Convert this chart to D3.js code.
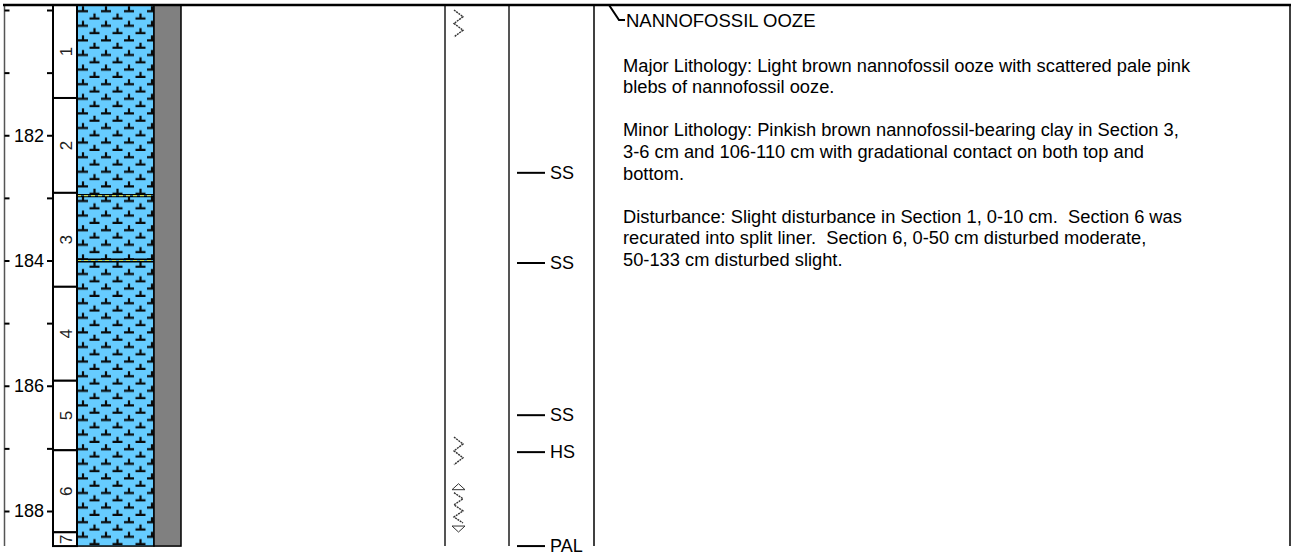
<!DOCTYPE html>
<html><head><meta charset="utf-8">
<script src="https://cdn.jsdelivr.net/npm/d3@7"></script>
<style>body{margin:0;background:#fff}svg{display:block}text{font-family:"Liberation Sans",Arial,Helvetica,sans-serif}</style>
</head><body><svg id="chart" width="1298" height="555"></svg>
<script>
// ---- data ----
const depthTicks = [180, 181, 182, 183, 184, 185, 186, 187, 188];
const depthLabels = [182, 184, 186, 188];
const sectionNames = ["1", "2", "3", "4", "5", "6", "7"];
const sectionTops = [179.92, 181.405, 182.92, 184.42, 185.92, 187.03, 188.34];
const coreBottom = 188.56;
const clayBands = [[182.95, 182.98], [183.98, 184.02]];
const disturbSlight = [[180.0, 180.43], [186.82, 187.26]];
const disturbModerate = [[187.58, 188.32]];
const sampleDepths = [182.60, 184.04, 186.47, 187.06, 188.56];
const sampleCodes = ["SS", "SS", "SS", "HS", "PAL"];
const lithologyName = "NANNOFOSSIL OOZE";
const descriptionLines = [
  "Major Lithology: Light brown nannofossil ooze with scattered pale pink",
  "blebs of nannofossil ooze.",
  "",
  "Minor Lithology: Pinkish brown nannofossil-bearing clay in Section 3,",
  "3-6 cm and 106-110 cm with gradational contact on both top and",
  "bottom.",
  "",
  "Disturbance: Slight disturbance in Section 1, 0-10 cm.  Section 6 was",
  "recurated into split liner.  Section 6, 0-50 cm disturbed moderate,",
  "50-133 cm disturbed slight."
];

// ---- layout ----
const svg = d3.select("#chart");
const y = d3.scaleLinear().domain([180, 188]).range([10, 511]);
const yTop = y(sectionTops[0]), yBot = y(coreBottom);
const X = {axis: 4.5, secL: 53, lithL: 77, lithR: 154, grayR: 181, dist: 445, samp: 509, desc: 594, right: 1290};

// pattern for nannofossil ooze
const defs = svg.append("defs");
const pw = 23, ph = 14.6;
const pat = defs.append("pattern").attr("id", "ooze").attr("patternUnits", "userSpaceOnUse")
  .attr("x", X.lithL).attr("y", yTop).attr("width", pw).attr("height", ph);
pat.append("rect").attr("width", pw).attr("height", ph).attr("fill", "#66ccff");
const sym = (cx, by) => `M${cx-5},${by}H${cx+5}M${cx},${by}V${by-5.2}`;
pat.append("path").attr("d", sym(6, 6.3) + sym(17.5, 13.6) + sym(-5.5, 13.6) + sym(29, 13.6) + sym(6 + pw, 6.3) + sym(6 - pw, 6.3))
  .attr("stroke", "#0a0a0a").attr("stroke-width", 2.2).attr("fill", "none");

// lithology column
svg.append("rect").attr("x", X.lithL).attr("y", yTop).attr("width", X.lithR - X.lithL).attr("height", yBot - yTop)
  .attr("fill", "url(#ooze)");
// clay bands
clayBands.forEach(([a, b]) => {
  const g = svg.append("g");
  g.append("rect").attr("x", X.lithL).attr("y", y(a)).attr("width", X.lithR - X.lithL).attr("height", y(b) - y(a)).attr("fill", "#4aa6d6");
  [a, b].forEach(d => g.append("line").attr("x1", X.lithL).attr("x2", X.lithR).attr("y1", y(d)).attr("y2", y(d)).attr("stroke", "#000").attr("stroke-width", 1.4));
  g.append("line").attr("x1", X.lithL).attr("x2", X.lithR).attr("y1", (y(a) + y(b)) / 2).attr("y2", (y(a) + y(b)) / 2)
    .attr("stroke", "#c9dc55").attr("stroke-width", 1.2).attr("stroke-dasharray", "4,3");
});
svg.append("rect").attr("x", X.lithL).attr("y", yTop).attr("width", X.lithR - X.lithL).attr("height", yBot - yTop)
  .attr("fill", "none").attr("stroke", "#000").attr("stroke-width", 1.5);
// gray column
svg.append("rect").attr("x", X.lithR).attr("y", yTop).attr("width", X.grayR - X.lithR).attr("height", yBot - yTop)
  .attr("fill", "#808080").attr("stroke", "#000").attr("stroke-width", 1.5);

// sections
const secBounds = sectionTops.map((t, i) => [t, i < sectionTops.length - 1 ? sectionTops[i + 1] : coreBottom]);
const sec = svg.append("g");
secBounds.forEach(([t, b]) => {
  sec.append("rect").attr("x", X.secL).attr("y", y(t)).attr("width", X.lithL - X.secL).attr("height", y(b) - y(t))
    .attr("fill", "#fff").attr("stroke", "#000").attr("stroke-width", 2);
});
secBounds.forEach(([t, b], i) => {
  const cy = (y(t) + y(b)) / 2;
  sec.append("text").attr("transform", `translate(${(X.secL + X.lithL) / 2 + 1},${cy}) rotate(-90)`)
    .attr("text-anchor", "middle").attr("dominant-baseline", "central").attr("font-size", 17).attr("fill", "#222")
    .text(sectionNames[i]);
});

// depth axis
svg.append("line").attr("x1", X.axis).attr("x2", X.axis).attr("y1", yTop).attr("y2", yBot).attr("stroke", "#555").attr("stroke-width", 1.5);
const axL = svg.append("g").attr("transform", `translate(${X.axis},0)`)
  .call(d3.axisRight(y).tickValues(depthTicks).tickSize(5).tickFormat(""));
axL.select(".domain").remove();
const axR = svg.append("g").attr("transform", `translate(${X.secL},0)`)
  .call(d3.axisLeft(y).tickValues(depthTicks).tickSize(6).tickPadding(3)
    .tickFormat(d => depthLabels.includes(d) ? String(d) : ""));
axR.select(".domain").remove();
svg.selectAll(".tick line").attr("stroke", "#000").attr("stroke-width", 2);
axR.selectAll("text").attr("font-size", 18).attr("fill", "#000").attr("font-family", '"Liberation Sans",Arial,sans-serif');

// column separators
[[X.dist, "#555", 2], [X.samp, "#555", 2], [X.desc, "#000", 1.5]].forEach(([x, c, w]) =>
  svg.append("line").attr("x1", x).attr("x2", x).attr("y1", yTop).attr("y2", yBot).attr("stroke", c).attr("stroke-width", w));
svg.append("line").attr("x1", X.right).attr("x2", X.right).attr("y1", yTop).attr("y2", yBot).attr("stroke", "#000").attr("stroke-width", 1.5);
svg.append("line").attr("x1", 3).attr("x2", X.right + 1).attr("y1", yTop).attr("y2", yTop).attr("stroke", "#000").attr("stroke-width", 2.5);

// disturbance symbols
const zx = 458.5, za = 4.5;
const zig = (y0, y1) => {
  const n = Math.max(2, Math.round((y1 - y0) / 6.5));
  const pts = d3.range(n + 1).map(i => [zx + (i % 2 ? za : -za), y0 + (y1 - y0) * i / n]);
  return d3.line()(pts);
};
const dg = svg.append("g").attr("fill", "none").attr("stroke", "#333").attr("stroke-width", 1.4).attr("stroke-dasharray", "2,0.8");
disturbSlight.forEach(([a, b]) => dg.append("path").attr("d", zig(y(a), y(b))));
disturbModerate.forEach(([a, b]) => {
  const y0 = y(a), y1 = y(b);
  dg.append("path").attr("d", zig(y0 + 8, y1 - 8));
  svg.append("path").attr("d", `M${zx},${y0 - 1}L${zx + 6.5},${y0 + 5}L${zx - 6.5},${y0 + 5}Z`).attr("fill", "#fff").attr("stroke", "#333").attr("stroke-width", 1);
  svg.append("path").attr("d", `M${zx},${y1 + 1}L${zx + 6.5},${y1 - 5}L${zx - 6.5},${y1 - 5}Z`).attr("fill", "#fff").attr("stroke", "#333").attr("stroke-width", 1);
});

// samples
const sg = svg.append("g");
sampleDepths.forEach((d, i) => {
  sg.append("line").attr("x1", 517).attr("x2", 545).attr("y1", y(d)).attr("y2", y(d)).attr("stroke", "#000").attr("stroke-width", 2);
  sg.append("text").attr("x", 550).attr("y", y(d)).attr("dominant-baseline", "central").attr("font-size", 18).text(sampleCodes[i]);
});

// description
svg.append("path").attr("d", `M${X.desc + 9},${yTop}H${X.desc + 15}L${X.desc + 25},${yTop + 15}H${X.desc + 31}`)
  .attr("fill", "none").attr("stroke", "#000").attr("stroke-width", 2);
svg.append("text").attr("x", 626).attr("y", yTop + 15.5).attr("dominant-baseline", "central").attr("font-size", 18.5).text(lithologyName);
descriptionLines.forEach((t, i) => {
  if (!t) return;
  svg.append("text").attr("x", 623).attr("y", 65 + i * 21.6).attr("dominant-baseline", "central")
    .attr("font-size", 18.3).attr("xml:space", "preserve").style("white-space", "pre").text(t);
});
</script></body></html>
